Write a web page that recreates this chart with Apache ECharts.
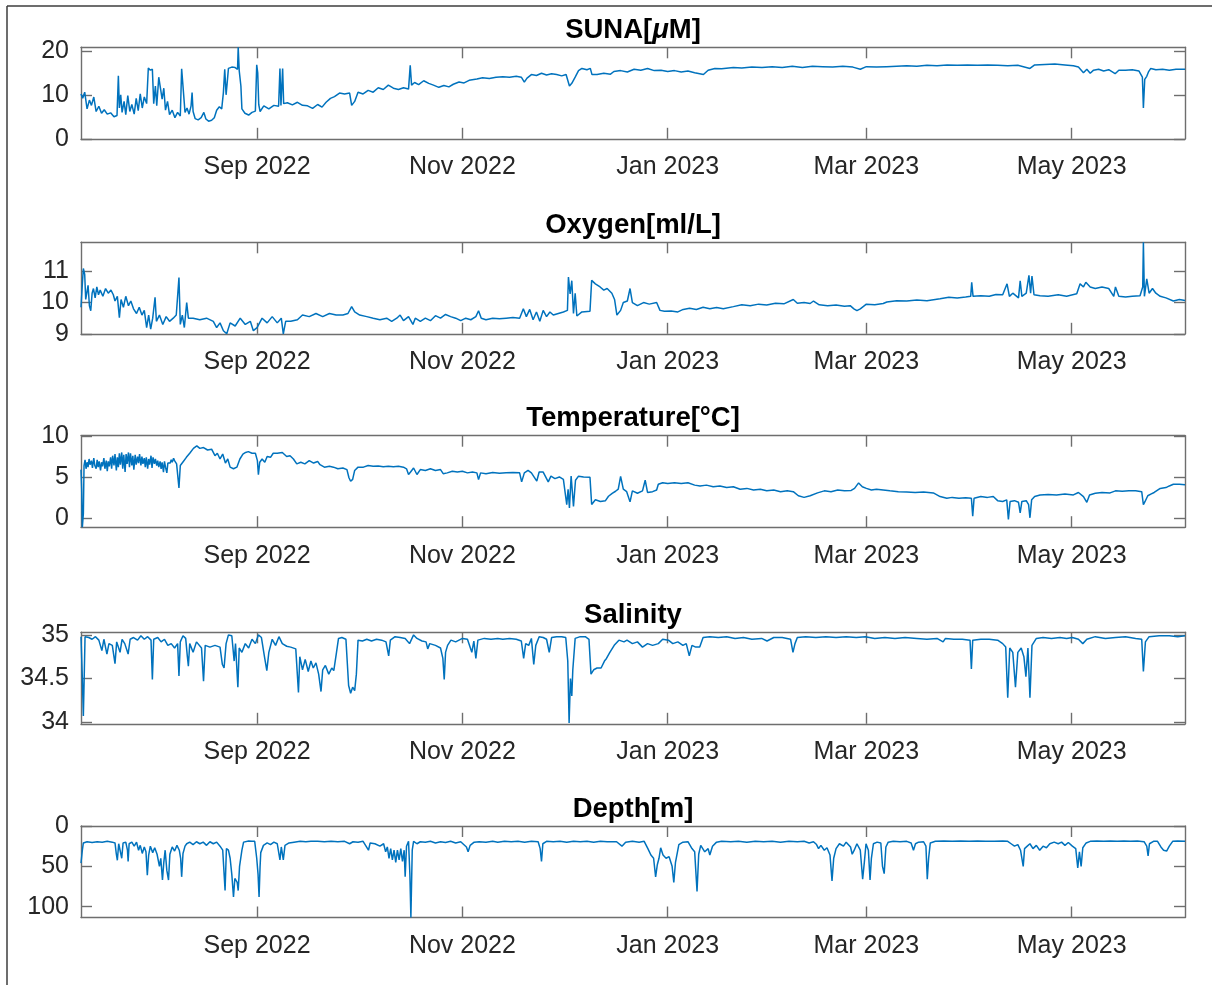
<!DOCTYPE html>
<html>
<head>
<meta charset="utf-8">
<script src="https://cdn.jsdelivr.net/npm/echarts@6/dist/echarts.min.js"></script>
<style>
  html, body { margin: 0; padding: 0; background: #ffffff; }
  #chart { width: 1212px; height: 985px; }
</style>
</head>
<body>
<div id="chart"></div>
<script>
// Mooring record, July 2022 – June 2023.
// Each sample is [days since 2022-07-01 00:00 UTC, value].

const sunaData = [
  [9.7,10.2],[10.2,9.2],[10.8,10.6],[11.5,6.8],[12.2,8.8],[12.8,7.6],[13.5,9.5],[14.2,6.2],[15,7.4],[15.8,5.8],
  [16.6,6.6],[17.5,5.6],[18.5,5.9],[19.5,5.0],[20.4,5.3],[20.8,14.3],[21.1,7],[21.5,10],[21.9,6],[22.5,8.5],
  [23,5.5],[23.6,9.8],[24.2,6.2],[24.8,7.8],[25.5,5.6],[26.1,9.2],[26.7,6.4],[27.3,10.2],[27.9,7],[28.5,9.5],
  [29.2,8],[29.7,16.1],[30.3,15.6],[30.9,15.8],[31.3,8],[31.8,12],[32.2,7.5],[32.8,14],[33.3,13.6],[33.8,9],
  [34.3,11.5],[34.8,6.5],[35.4,8.5],[36,5.5],[36.8,6.5],[37.6,4.8],[38.4,6],[39.2,5.2],[39.6,15.9],[40.1,15.6],
  [40.6,6],[41.2,7],[41.8,5.6],[42.4,7.5],[42.7,10.5],[43,6.2],[43.6,4.6],[44.5,4.3],[45.4,4.8],[46.2,6],
  [46.8,4.5],[47.6,4.0],[48.5,4.2],[49.3,4.8],[50,6.5],[50.8,7.3],[51.5,6.8],[52,10.5],[52.4,15.8],[52.8,10],
  [53.1,12.5],[53.5,16],[54.5,16.3],[55.5,16.2],[56.2,15.8],[56.4,20.8],[56.7,15.5],[57.2,12],[57.5,6.8],[58.4,5.8],
  [59.5,5.4],[60.5,6],[61.5,6.3],[61.9,16.8],[62.2,15],[62.5,7.8],[62.9,6.2],[64,7.5],[65.5,6.8],[67,7.6],
  [68.4,7.4],[68.8,16],[69.1,7.6],[69.6,16],[69.9,8],[71,8.2],[72.5,7.7],[74,8.3],[75.5,7.6],[77,7.5],
  [78.5,6.9],[80,7.8],[81.3,7.2],[82.5,8.3],[83.8,9.2],[85,9.6],[86.5,10.4],[88,10.2],[89.5,10.4],[90.1,7.6],
  [91,8.5],[92,10.6],[93.5,10.2],[95,11],[96.5,10.6],[98,11.6],[99.5,11.2],[101,12.2],[102.5,11.5],[104,11.2],
  [105.5,11.6],[107,11.3],[107.5,16.7],[107.9,12.2],[108.8,12.8],[110,12.3],[111.5,13.2],[113,12.6],[114.4,12.2],[116,11.7],
  [117.5,12.1],[119,11.8],[120.3,12.4],[122,12.9],[123.5,12.7],[125,13.3],[127.3,13.6],[129,13.9],[131,13.7],[133,14.0],
  [135,14.1],[137,14.0],[139,14.2],[140.5,14.0],[141.4,12.9],[142.2,13.8],[143.5,14.6],[145,14.4],[146.5,14.9],[148,14.5],
  [149.5,14.8],[151,14.6],[152.5,14.3],[153.8,14.6],[154.8,12.0],[155.5,12.6],[156.5,14.0],[157.5,15.5],[158.5,16.0],[160,15.7],
  [161,16.0],[161.5,14.6],[163,14.6],[165,14.9],[167,14.7],[168,15.3],[170,15.5],[172,15.2],[174,15.8],[176,15.6],
  [178,16.0],[180,15.5],[182,15.6],[184,15.3],[186,15.5],[188,15.2],[190,15.4],[192,15.0],[194.6,14.6],[196,15.6],
  [198,16.0],[200,15.9],[203.5,16.2],[206,16.1],[209,16.3],[212,16.2],[215,16.4],[218,16.2],[221,16.5],[224,16.2],
  [227,16.5],[230,16.4],[233,16.3],[236,16.5],[239,16.3],[241.2,15.8],[243,16.4],[246,16.3],[249,16.4],[252,16.5],
  [255,16.6],[258,16.5],[261,16.7],[264,16.6],[267,16.8],[270,16.7],[273,16.8],[276,16.7],[279,16.8],[282,16.7],
  [285,16.6],[288,16.7],[291.6,16.0],[293,16.8],[296,16.9],[299,17.0],[302,16.8],[304.5,16.6],[306,16.3],[307.5,15.0],
  [308.5,15.8],[309.5,14.9],[310.5,15.6],[312,15.8],[313.5,15.4],[315,15.7],[316.9,14.8],[318,15.6],[320,15.6],[322,15.7],
  [324,15.4],[325,14.0],[325.3,7.0],[325.7,13.5],[326.3,14.2],[326.8,15.2],[327.5,16.0],[329,15.7],[331,15.8],[333,15.6],
  [335,15.8],[337.66,15.8]
];

const oxygenData = [
  [9.7,9.85],[10.1,10.6],[10.4,11.09],[10.8,10.9],[11.1,10.1],[11.4,10.05],[11.8,10.55],[12.2,9.9],[12.6,9.74],[13.0,10.3],
  [13.4,10.45],[13.9,10.15],[14.4,10.5],[14.9,10.25],[15.4,10.4],[16.2,10.2],[17,10.45],[17.8,10.3],[18.6,10.4],[19.3,10.25],
  [19.8,10.05],[20.5,10.2],[21.1,9.52],[21.6,10.1],[22.3,9.85],[23,10.2],[23.8,9.9],[24.5,10.05],[25.3,9.8],[26.2,9.65],
  [27,9.85],[27.8,9.6],[28.5,9.75],[29.2,9.2],[29.8,9.6],[30.4,9.15],[31,9.5],[31.7,10.17],[32.1,9.4],[33,9.6],
  [34,9.3],[35,9.55],[36,9.4],[37.1,9.5],[38,9.6],[38.8,10.8],[39.2,9.3],[39.8,9.6],[40.4,9.2],[41.1,10.0],
  [41.6,9.5],[43,9.5],[45,9.45],[47,9.5],[49,9.4],[50,9.2],[51,9.35],[52,9.1],[53,9.0],[54,9.35],
  [55.5,9.25],[57,9.5],[58.5,9.3],[60,9.4],[60.9,9.1],[62,9.2],[63.5,9.5],[65,9.35],[66.5,9.55],[68,9.35],
  [69.2,9.5],[69.8,9.0],[70.5,9.4],[72,9.4],[74,9.45],[75.5,9.6],[77.5,9.55],[79.5,9.65],[81.5,9.55],[83.5,9.65],
  [85.5,9.6],[87.5,9.6],[89,9.65],[90.1,9.87],[91,9.7],[92.5,9.6],[94.6,9.55],[96.5,9.5],[98.5,9.45],[100.5,9.5],
  [102,9.4],[103.5,9.5],[104.5,9.6],[105.5,9.42],[107,9.55],[108.3,9.3],[109,9.5],[110.5,9.4],[112,9.5],[113.5,9.42],
  [115,9.58],[116.5,9.5],[118,9.62],[119.5,9.55],[121,9.5],[122.5,9.42],[124,9.5],[125.5,9.45],[127,9.55],[127.8,9.74],
  [128.6,9.5],[130,9.45],[132,9.5],[134,9.48],[136,9.5],[138,9.52],[140,9.5],[141.1,9.8],[142,9.55],[143,9.78],
  [144,9.45],[145,9.7],[146,9.4],[147,9.75],[148,9.55],[149,9.7],[150,9.6],[151.5,9.65],[153,9.7],[154.2,9.75],
  [154.5,10.82],[155,10.28],[155.5,10.7],[156,9.65],[156.5,10.3],[157,9.57],[158.5,9.7],[160.9,9.72],[161.4,10.71],[162.5,10.6],
  [163.9,10.5],[165,10.4],[166,10.45],[167.4,10.3],[168.2,10.1],[168.9,9.6],[170,9.75],[170.8,10.0],[172,10.05],[172.8,10.45],
  [173.5,10.0],[175,9.9],[176.8,10.0],[178.5,9.95],[180.7,10.0],[181.7,9.75],[183,9.72],[185,9.73],[187,9.7],[188.6,9.78],
  [190.5,9.82],[192.5,9.78],[194.5,9.85],[196.5,9.8],[198.5,9.84],[200.5,9.8],[203.5,9.87],[206,9.93],[208.5,9.9],[211,9.95],
  [213.4,9.92],[216,9.98],[218.5,9.96],[221.3,10.1],[222.5,9.98],[224.5,10.0],[226.3,9.97],[227.3,10.05],[229,9.93],[231.5,9.9],
  [234,9.92],[236.5,9.88],[238.2,9.9],[239.3,9.8],[240.2,9.74],[241.2,9.8],[243,9.95],[245.5,9.93],[248,9.97],[249.1,10.02],
  [252,10.06],[255,10.05],[258,10.08],[261,10.06],[264.9,10.12],[267.5,10.17],[270,10.15],[272.5,10.18],[274,10.2],[274.3,10.65],
  [274.7,10.2],[277,10.22],[279.5,10.2],[281.5,10.26],[283.5,10.25],[284.8,10.6],[285.5,10.2],[286.5,10.3],[288.2,10.15],[288.7,10.7],
  [289.2,10.2],[290.5,10.3],[291.3,10.87],[291.8,10.3],[292.2,10.85],[292.8,10.25],[294.6,10.22],[297,10.2],[300,10.25],[302.5,10.2],
  [305.5,10.28],[306.5,10.6],[307.5,10.5],[308.2,10.65],[309.5,10.5],[311,10.45],[313,10.5],[315,10.45],[316.5,10.2],[317,10.5],
  [318,10.2],[320,10.18],[322,10.2],[324.3,10.22],[325.1,10.5],[325.3,11.93],[325.6,10.2],[326.3,10.76],[327,10.3],[328,10.45],
  [329,10.3],[330.3,10.2],[332,10.15],[334.2,10.05],[336,10.1],[337.66,10.07]
];

const temperatureData = [
  [9.7,5.9],[9.9,3.5],[10.1,-1.15],[10.4,0.5],[10.6,6.4],[10.9,7.1],[11.2,6.0],[11.5,6.8],[11.8,6.2],[12.1,7.2],
  [12.4,6.5],[12.8,7.0],[13.1,6.1],[13.5,7.3],[13.8,6.4],[14.2,6.0],[14.5,7.1],[14.8,6.2],[15.1,6.9],[15.5,5.8],
  [15.8,6.8],[16.1,6.3],[16.5,7.3],[16.8,6.0],[17.2,7.0],[17.5,5.7],[17.8,6.9],[18.1,6.3],[18.5,7.4],[18.8,6.0],
  [19.1,7.6],[19.5,6.4],[19.8,7.8],[20.2,5.8],[20.5,7.4],[20.8,6.2],[21.1,7.9],[21.4,6.5],[21.8,8.0],[22.1,6.0],
  [22.4,7.7],[22.8,5.6],[23.1,7.8],[23.4,6.6],[23.8,8.0],[24.1,6.2],[24.4,7.9],[24.8,6.4],[25.1,7.6],[25.4,5.9],
  [25.8,7.7],[26.1,6.5],[26.5,7.5],[26.8,6.7],[27.1,7.8],[27.5,6.4],[27.8,7.5],[28.1,6.6],[28.5,7.3],[28.8,6.2],
  [29.1,7.4],[29.5,6.0],[29.8,7.2],[30.1,6.5],[30.5,7.6],[30.8,6.1],[31.1,7.4],[31.5,6.6],[31.8,7.2],[32.2,6.4],
  [32.5,7.0],[32.8,6.2],[33.2,6.9],[33.5,6.0],[33.8,6.8],[34.2,5.6],[34.5,6.9],[34.8,6.2],[35.2,5.5],[35.5,6.7],
  [35.8,6.9],[36.2,6.7],[36.5,7.1],[36.8,6.8],[37.2,7.3],[37.5,7.0],[37.8,7.2],[38.1,6.6],[38.4,6.4],[38.8,3.66],
  [39.2,6.4],[40.1,6.9],[41,7.4],[42,7.9],[43.1,8.5],[44.1,8.8],[45,8.5],[46.1,8.6],[47.3,8.3],[48.5,8.4],
  [49.5,7.6],[50.2,7.9],[51,7.2],[51.8,7.8],[52.6,6.7],[53.3,7.2],[54,6.2],[55,6.0],[56,6.2],[56.9,7.2],
  [57.8,7.8],[58.6,8.0],[59.4,8.1],[60.5,7.9],[61.5,7.9],[62.1,7.0],[62.4,5.28],[62.8,6.8],[63.5,7.2],[64.3,6.8],
  [65,7.5],[66,7.4],[66.8,7.9],[68,7.9],[69.5,8.0],[70.8,7.5],[71.8,7.6],[72.8,7.2],[73.8,6.6],[75,6.8],
  [76.2,6.6],[77.5,7.0],[78.8,6.7],[80,6.9],[80.7,6.5],[82,6.2],[83.5,6.3],[84.7,6.2],[86,6.0],[87.5,6.1],
  [88.7,5.9],[89.3,4.9],[89.8,4.47],[90.4,4.7],[91,5.8],[92,6.2],[93.6,6.2],[95,6.4],[96.5,6.3],[98,6.35],
  [99.5,6.25],[101,6.3],[102.5,6.25],[104,6.3],[105.5,6.2],[106.4,6.0],[107,5.3],[107.6,5.6],[108.5,6.1],[109.5,5.3],
  [110.5,5.9],[112,5.8],[113.5,6.0],[115,5.8],[116.5,5.9],[117.3,5.4],[118.5,5.5],[120,5.7],[121.5,5.6],[123,5.7],
  [124.5,5.5],[126,5.6],[127.3,5.5],[127.8,4.67],[128.4,5.5],[130,5.4],[132,5.55],[134,5.45],[136,5.5],[138,5.55],
  [140,5.5],[140.6,4.4],[141.4,5.5],[142.5,5.8],[143.5,5.5],[145.1,4.5],[145.8,5.6],[147,5.6],[148.5,4.4],[149.3,5.1],
  [150.5,4.8],[151.8,5.0],[153,4.7],[154,1.6],[154.4,3.5],[154.8,1.22],[155.3,5.1],[156,1.4],[156.6,4.6],[157.5,5.1],
  [159,5.0],[160.9,4.95],[161.4,1.62],[162.5,2.2],[164,2.0],[165.5,2.1],[166.4,2.64],[167.5,3.0],[168.5,3.25],[169.3,3.5],
  [170,5.07],[170.8,3.5],[171.8,3.2],[172.8,1.95],[173.5,3.3],[175,3.0],[176.5,3.3],[177.3,4.6],[178,3.1],[179.5,3.2],
  [180.7,3.4],[181.2,4.1],[182.5,4.3],[184,4.2],[186,4.3],[188,4.2],[190,4.3],[192,4.0],[193.6,3.9],[195.5,4.0],
  [197.5,3.8],[199.5,3.9],[201.5,3.7],[203.5,3.8],[205.5,3.5],[207.5,3.6],[209.5,3.4],[211.5,3.5],[213.4,3.3],[215.5,3.4],
  [217.5,3.2],[219.5,3.3],[221.3,3.2],[222.8,2.7],[224.5,2.5],[226.3,2.7],[228.5,3.05],[230.5,3.3],[232.5,3.2],[234.5,3.4],
  [236.5,3.3],[238.5,3.35],[239.5,3.6],[240.7,4.27],[241.8,3.8],[243,3.6],[244.5,3.4],[246,3.5],[248,3.4],[250,3.3],
  [252.5,3.2],[255,3.15],[257.5,3.1],[260,3.15],[262.9,3.05],[264.9,2.6],[266.9,2.4],[268.5,2.5],[270.5,2.4],[272.5,2.45],
  [274.2,2.4],[274.6,0.2],[275,2.4],[277,2.6],[279,2.5],[280.7,2.6],[282,2.1],[283.5,2.0],[284.7,2.2],[285.2,-0.2],
  [285.7,2.0],[287,2.1],[288.2,1.9],[288.7,0.6],[289.2,2.0],[290.5,2.1],[291.2,1.6],[291.6,0.0],[292.1,2.2],[293,2.6],
  [294.6,2.8],[297,2.85],[299.5,2.8],[302,2.9],[304.5,2.8],[306,3.1],[307.5,2.6],[308.5,1.9],[309.3,2.8],[311,3.0],
  [313,3.1],[315.4,3.05],[317,3.3],[319,3.25],[321,3.3],[323,3.3],[324.8,3.2],[325.3,1.6],[325.8,2.0],[326.6,2.7],
  [327.5,2.9],[328.5,3.1],[330.3,3.6],[332,3.7],[333,3.9],[334.2,4.1],[336,4.1],[337.66,4.05]
];

const salinityData = [
  [9.7,34.98],[10.1,34.5],[10.4,34.07],[10.7,34.6],[10.9,34.98],[12,34.97],[13,34.95],[14,34.98],[15,34.94],[15.9,34.82],
  [16.5,34.95],[17.4,34.78],[18,34.9],[19,34.88],[19.8,34.67],[20.3,34.92],[21.3,34.8],[21.9,34.95],[22.7,34.9],[23.7,34.78],
  [24.3,34.95],[25.3,34.97],[26.5,34.94],[27.5,34.99],[28.5,34.95],[29.5,34.98],[30.5,34.94],[30.9,34.49],[31.3,34.95],[32.5,34.97],
  [33.5,34.92],[34.5,34.95],[35.5,34.88],[36.5,34.9],[37.5,34.85],[38.4,34.9],[38.8,34.53],[39.2,34.92],[40,34.99],[40.8,34.96],
  [41.3,34.75],[41.6,34.64],[42,34.9],[43,34.8],[44,34.92],[45.5,34.85],[46.1,34.47],[46.6,34.88],[48,34.86],[49.5,34.88],
  [51,34.86],[51.7,34.66],[52.2,34.62],[52.8,34.9],[53.5,35.0],[54.5,34.99],[55.2,34.7],[55.6,34.9],[56.3,34.4],[56.7,34.85],
  [57.5,34.8],[58.5,34.9],[59.5,34.85],[60.5,34.95],[61.5,34.9],[62.4,35.0],[63.3,34.97],[64.2,34.75],[64.9,34.59],[65.5,34.8],
  [66.5,34.95],[67.5,34.88],[68.5,34.98],[69.5,34.9],[70.8,34.87],[72,34.86],[73.5,34.84],[74.3,34.34],[74.7,34.75],[75.5,34.6],
  [76.3,34.72],[77.2,34.58],[78,34.7],[78.7,34.62],[79.5,34.68],[80.3,34.55],[81,34.35],[81.5,34.6],[82.3,34.65],[83.3,34.55],
  [84.2,34.62],[84.8,34.59],[85.6,34.8],[86.2,34.96],[87.2,34.97],[88.4,34.95],[89.2,34.42],[89.8,34.33],[90.4,34.4],[91,34.36],
  [91.5,34.55],[92,34.94],[93.3,34.93],[94.6,34.95],[96,34.93],[97.5,34.95],[99,34.94],[100.3,34.92],[101.1,34.76],[101.6,34.94],
  [103,34.98],[104.5,34.97],[106,34.96],[107.3,34.9],[108.5,35.0],[109.5,34.96],[111,34.93],[112.2,34.92],[112.7,34.84],[113.3,34.9],
  [115,34.88],[116.5,34.85],[117.2,34.73],[117.6,34.49],[118,34.8],[118.6,34.88],[119.6,34.94],[121,34.92],[123,34.96],[124.5,34.95],
  [125.8,34.8],[126.4,34.93],[127,34.73],[127.6,34.94],[129.5,34.96],[131.5,34.95],[133.5,34.96],[135,34.95],[137,34.96],[139,34.95],
  [140.5,34.93],[141.2,34.73],[141.8,34.9],[142.7,34.88],[143.5,34.96],[144.2,34.66],[144.8,34.88],[145.8,34.98],[147,34.97],[148,34.95],
  [148.8,34.8],[149.5,34.97],[151,34.98],[152.5,34.98],[153.7,34.97],[154.3,34.7],[154.7,33.99],[155.1,34.5],[155.5,34.3],[155.8,34.6],
  [156.5,34.96],[158,34.98],[159.5,34.98],[160.6,34.95],[161.2,34.55],[162,34.6],[163,34.62],[164.2,34.62],[165.2,34.7],[165.8,34.73],
  [166.8,34.8],[168.1,34.88],[169.5,34.94],[171,34.92],[171.9,34.94],[173.5,34.9],[175,34.92],[176.5,34.86],[178,34.9],[179.5,34.88],
  [181.2,34.9],[182.5,34.95],[184.2,34.94],[185.5,34.9],[187,34.92],[188.5,34.88],[189.5,34.9],[190.4,34.76],[191.2,34.88],[192.3,34.86],
  [193.5,34.86],[194.5,34.97],[196.5,34.98],[199,34.97],[201.5,34.98],[204,34.96],[206.5,34.97],[209,34.95],[211.9,34.96],[213.5,34.93],
  [215.5,34.97],[218,34.97],[220.5,34.95],[221.2,34.8],[221.8,34.9],[222.5,34.97],[225,34.98],[228,34.97],[231,34.98],[234,34.97],
  [237,34.98],[240,34.97],[242.7,34.98],[245.5,34.96],[248.5,34.97],[251.5,34.96],[254.5,34.97],[258,34.96],[261,34.95],[264,34.96],
  [265.8,34.92],[266.5,34.96],[269,34.95],[271.5,34.95],[273.8,34.94],[274.2,34.61],[274.6,34.94],[277,34.95],[279.5,34.95],[282,34.94],
  [283.5,34.9],[284.4,34.86],[285,34.28],[285.6,34.85],[286.5,34.8],[287.3,34.4],[288,34.8],[289,34.85],[289.8,34.75],[290.4,34.52],
  [291,34.85],[291.6,34.28],[292.2,34.88],[293.5,34.96],[295.5,34.97],[298,34.96],[300.5,34.97],[302.5,34.96],[304.2,34.97],[306,34.95],
  [307.3,34.9],[308.5,34.95],[311,34.98],[314,34.96],[317,34.97],[320,34.98],[323,34.96],[324.8,34.95],[325.3,34.58],[325.9,34.92],
  [327,34.98],[330,34.99],[333,34.99],[335.5,34.98],[337.66,34.99]
];

const depthData = [
  [9.7,46],[10.1,30],[10.4,21],[11.5,19.5],[13,20.5],[14.5,19.5],[16,20],[17.5,19],[19,20],[19.8,21],
  [20.2,35],[20.5,42.5],[20.9,22],[21.4,21],[21.8,40],[22.2,21],[23,20],[23.5,30],[23.7,44],[24,22],
  [24.8,20],[25.5,25],[26.2,20],[26.8,30],[27.3,24],[27.9,34],[28.5,26],[29,32],[29.4,61],[29.8,36],
  [30.3,25],[31,33],[31.6,27],[32.3,35],[33,50],[33.4,40],[33.9,67],[34.3,45],[34.7,30],[35.2,55],
  [35.7,67],[36.1,35],[36.8,26],[37.5,31],[38.2,24],[38.9,30],[39.3,40],[39.6,63],[40,34],[40.6,25],
  [41.1,22],[42,20],[43,23],[44,19.5],[45,22],[46,20],[47,24],[48,19.5],[49,22],[50,20],
  [51,25],[51.8,30],[52.5,80],[52.9,28],[53.5,30],[54,40],[54.5,60],[55,88],[55.4,65],[55.8,67],
  [56.1,70],[56.4,80],[56.8,50],[57.5,30],[58,20],[58.4,19],[59.5,18.5],[60.5,19],[61.3,19],[61.9,40],
  [62.3,60],[62.6,88],[62.9,50],[63.1,33],[63.9,24],[65,21],[66,23],[67,20],[68,22],[68.8,42],
  [69.2,26],[69.8,42],[70.3,24],[71.5,21],[73,20],[74.8,19],[76.5,19.5],[78,19],[80,19],[82,19.5],
  [84,19],[86,19.5],[88,19],[89.5,22],[90.5,19.5],[92,20],[93.5,19],[95.1,30],[95.6,21],[97,22],
  [98.5,25],[99.6,22],[100.2,32],[100.7,26],[101.2,40],[101.7,28],[102.2,42],[102.7,30],[103.2,45],[103.7,30],
  [104.2,42],[104.7,28],[105.2,44],[105.7,30],[106,63],[106.4,25],[107,19],[107.4,60],[107.7,113.4],[108.1,30],
  [108.5,19],[109.5,22],[110.5,19.5],[112,20],[113.5,19],[115,21],[116.5,19.5],[118,20.5],[119.5,19],[121,21],
  [122.5,19.5],[124.2,26],[124.7,32],[125.3,24],[126.5,20],[128,19.5],[130,20],[132,19],[133.5,20],[135.5,19],
  [137.5,19.5],[139.5,19],[141.5,20],[143.5,19],[145.5,19.5],[146.1,28],[146.5,44],[146.9,22],[148,19],[150,19.5],
  [152,19],[154,20],[156,19],[158,19.5],[160,19],[162,20],[164,19],[166,19.5],[168.8,19.5],[170.4,25],
  [171.5,20],[173.5,19],[175.5,20],[177,19],[178.1,28],[179,36],[179.8,40],[180.4,63],[180.9,48],[181.4,40],
  [181.9,27],[182.6,36],[183.5,40],[184.4,38],[185.3,50],[185.8,70],[186.3,45],[187.3,23],[188.5,20],[190,19.5],
  [191.2,28],[192,32],[192.7,81],[193.2,35],[193.8,24],[195,32],[196,28],[196.5,36],[197.3,25],[198.5,20],
  [200,19],[202.7,19.5],[205,19],[207.5,20],[210,19],[212.5,19.5],[215,19],[217.5,20],[220,19],[222.5,19.5],
  [224.5,19],[226,21],[227.3,19.5],[228.2,23],[228.8,28],[229.5,24],[230.5,30],[231.3,27],[232.2,36],[232.8,68],
  [233.3,40],[234,28],[235,22],[236.2,25],[237,20],[238.3,26],[238.8,35],[239.4,30],[240.2,22],[241.2,30],
  [241.9,66],[242.4,45],[242.9,22],[243.6,30],[244.1,67],[244.5,40],[245.1,22],[246.2,20],[247.3,21],[247.8,50],
  [248.3,59],[248.8,26],[249.5,20],[251,19],[253,19.5],[255,19],[256.3,21],[257,30],[257.6,22],[258.5,20],
  [260,19.5],[260.7,25],[261.1,66],[261.5,40],[262,21],[263.5,19],[266,18.5],[268.5,19],[271,18.5],[273.5,19],
  [276,18.5],[278.5,19],[281,19],[283.5,18.5],[285,19],[286,22],[287,25],[288,23],[288.8,30],[289.6,50],
  [290,28],[290.8,25],[291.6,22],[292.5,28],[293.5,24],[294.5,30],[295.5,25],[296.5,27],[297.5,22],[298.8,20],
  [300,22],[301,20],[302,24],[303,20.5],[304.2,25],[305.2,28],[305.8,52],[306.3,32],[306.8,50],[307.3,27],
  [308.3,21],[309.5,19],[311.5,18.5],[313.5,19],[315.5,18.5],[317.5,19],[319.5,18.5],[321.5,19],[323.5,18.5],[325.5,19.5],
  [326.3,25],[326.7,37],[327.1,22],[328.3,19],[329.5,19],[330.5,26],[331.3,30],[332.2,31],[333,25],[334,19],
  [335.5,18.5],[337.66,19]
];

// Panel titles (rich text marks the italic mu), y-axis limits and tick values
const panelTitles = ['SUNA[{mu|\u03BC}M]', 'Oxygen[ml/L]', 'Temperature[\u00B0C]', 'Salinity', 'Depth[m]'];
const yLimits = [[0, 20.8], [9, 11.93], [-1.15, 10.05], [33.98, 35.03], [0, 113.4]];
const yTickValues = [[0, 10, 20], [9, 10, 11], [0, 5, 10], [34, 34.5, 35], [0, 50, 100]];
const yInverted = [false, false, false, false, true];

// Date ticks along the shared time axis
const xTickDates = ['2022-09-01', '2022-11-01', '2023-01-01', '2023-03-01', '2023-05-01'];
const monthNames = ['Jan', 'Feb', 'Mar', 'Apr', 'May', 'Jun', 'Jul', 'Aug', 'Sep', 'Oct', 'Nov', 'Dec'];

const seriesList = [sunaData, oxygenData, temperatureData, salinityData, depthData];

const DAY_MS = 86400000;
const ORIGIN = Date.UTC(2022, 6, 1);
const toTime = d => ORIGIN + d * DAY_MS;

const allDays = seriesList.flatMap(s => s.map(p => p[0]));
const xMin = toTime(Math.min(...allDays));
const xMax = toTime(Math.max(...allDays));
const xTicks = xTickDates.map(s => Date.parse(s));
const formatDate = v => { const d = new Date(v); return monthNames[d.getUTCMonth()] + ' ' + d.getUTCFullYear(); };

// Layout of the five stacked panels
const FONT = "'Liberation Sans', Arial, Helvetica, sans-serif";
const AXIS_COLOR = '#6e6e6e';
const TEXT_COLOR = '#262626';
const LINE_COLOR = '#0072BD';
const plotLeft = 81, plotWidth = 1104, plotHeight = 91.5;
const panelTops = [47.3, 242.3, 435.7, 632.3, 826];

const axisLine = { show: true, onZero: false, lineStyle: { color: AXIS_COLOR, width: 1.4 } };
const tickStyle = { color: AXIS_COLOR, width: 1.4 };

const grids = [], xAxes = [], yAxes = [], titles = [], series = [];

seriesList.forEach((data, i) => {
  grids.push({ left: plotLeft, top: panelTops[i], width: plotWidth, height: plotHeight, containLabel: false });

  titles.push({
    text: panelTitles[i],
    left: plotLeft + plotWidth / 2,
    textAlign: 'center',
    top: panelTops[i] - 31,
    padding: 0,
    textStyle: {
      fontFamily: FONT, fontSize: 27.5, fontWeight: 'bold', color: '#000000',
      rich: { mu: { fontFamily: FONT, fontSize: 27.5, fontWeight: 'bold', fontStyle: 'italic', color: '#000000' } }
    }
  });

  // time values are plain millisecond timestamps on a linear axis
  ['bottom', 'top'].forEach(pos => {
    xAxes.push({
      type: 'value', gridIndex: i, position: pos, min: xMin, max: xMax, scale: true,
      axisLine: axisLine,
      axisTick: { show: true, inside: true, length: 11, customValues: xTicks, lineStyle: tickStyle },
      axisLabel: {
        show: pos === 'bottom', customValues: xTicks, margin: 16,
        fontFamily: FONT, fontSize: 25, color: TEXT_COLOR,
        formatter: formatDate
      },
      splitLine: { show: false }
    });
  });

  ['left', 'right'].forEach(pos => {
    yAxes.push({
      type: 'value', gridIndex: i, position: pos,
      min: yLimits[i][0], max: yLimits[i][1], inverse: yInverted[i],
      axisLine: axisLine,
      axisTick: { show: true, inside: true, length: 11, customValues: yTickValues[i], lineStyle: tickStyle },
      axisLabel: {
        show: pos === 'left', customValues: yTickValues[i], margin: 12,
        fontFamily: FONT, fontSize: 25, color: TEXT_COLOR
      },
      splitLine: { show: false }
    });
  });

  series.push({
    type: 'line', xAxisIndex: i * 2, yAxisIndex: i * 2,
    data: data.map(p => [toTime(p[0]), p[1]]),
    showSymbol: false, symbol: 'none',
    lineStyle: { color: LINE_COLOR, width: 1.5 },
    clip: true, z: 3
  });
});

const chart = echarts.init(document.getElementById('chart'), null, { renderer: 'canvas' });
chart.setOption({
  backgroundColor: '#ffffff',
  animation: false,
  title: titles,
  grid: grids,
  xAxis: xAxes,
  yAxis: yAxes,
  series: series,
  graphic: [
    { type: 'line', shape: { x1: 7, y1: 6, x2: 1212, y2: 6 }, style: { stroke: '#3c3c3c', lineWidth: 1.5 } },
    { type: 'line', shape: { x1: 7, y1: 6, x2: 7, y2: 985 }, style: { stroke: '#3c3c3c', lineWidth: 1.5 } }
  ]
});
</script>
</body>
</html>
